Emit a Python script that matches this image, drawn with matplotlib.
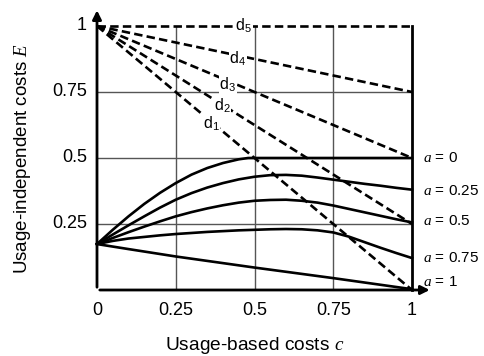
import matplotlib.pyplot as plt
import numpy as np

plt.rcParams['font.family'] = ['Liberation Sans', 'DejaVu Sans']
plt.rcParams['mathtext.fontset'] = 'custom'
plt.rcParams['mathtext.rm'] = 'Liberation Sans'
plt.rcParams['mathtext.it'] = 'Liberation Serif:italic'

# dashed lines d1..d5: from (0, 1) to (1, end)
d_names = ['d$_1$', 'd$_2$', 'd$_3$', 'd$_4$', 'd$_5$']
d_end = [0.0, 0.25, 0.5, 0.75, 1.0]
d_label_pos = [(0.362, 0.629), (0.397, 0.697), (0.415, 0.777), (0.447, 0.875), (0.466, 1.0)]

# solid curves for a = 0 ... 1
a_names = ['$a$ = 0', '$a$ = 0.25', '$a$ = 0.5', '$a$ = 0.75', '$a$ = 1']
a_label_y = [0.5, 0.376, 0.26, 0.121, 0.029]
a0_x = [0, 0.05, 0.1, 0.15, 0.2, 0.25, 0.3, 0.35, 0.4, 0.45, 0.48, 0.6, 0.8, 1.0]
a0_y = [0.174, 0.228, 0.279, 0.326, 0.368, 0.405, 0.437, 0.462, 0.481, 0.495, 0.5, 0.5, 0.5, 0.5]
a25_x = [0, 0.05, 0.1, 0.15, 0.2, 0.25, 0.3, 0.35, 0.4, 0.45, 0.5, 0.55, 0.6, 0.65, 0.7,
         0.75, 0.8, 0.85, 0.9, 0.95, 1.0]
a25_y = [0.174, 0.21, 0.245, 0.279, 0.312, 0.342, 0.367, 0.388, 0.405, 0.419, 0.429, 0.435,
         0.436, 0.433, 0.426, 0.418, 0.41, 0.402, 0.395, 0.387, 0.38]
a50_x = a25_x
a50_y = [0.174, 0.197, 0.219, 0.24, 0.26, 0.279, 0.295, 0.309, 0.321, 0.331, 0.338, 0.341,
         0.342, 0.338, 0.331, 0.32, 0.307, 0.294, 0.281, 0.268, 0.256]
a75_x = a25_x
a75_y = [0.174, 0.186, 0.195, 0.201, 0.207, 0.212, 0.216, 0.22, 0.223, 0.226, 0.228, 0.23,
         0.231, 0.23, 0.226, 0.218, 0.202, 0.181, 0.16, 0.14, 0.121]
a100_x = [0, 0.1, 0.25, 0.5, 0.75, 1.0]
a100_y = [0.174, 0.155, 0.127, 0.085, 0.045, 0.003]
curves = [(a0_x, a0_y), (a25_x, a25_y), (a50_x, a50_y), (a75_x, a75_y), (a100_x, a100_y)]

ticks = [0, 0.25, 0.5, 0.75, 1]
tick_labels = ['0', '0.25', '0.5', '0.75', '1']

fig = plt.figure(figsize=(4.84, 3.56), dpi=100)
ax = fig.add_axes([97 / 484, 66 / 356, 315 / 484, 264 / 356])
ax.set_xlim(0, 1)
ax.set_ylim(0, 1)
for s in ax.spines.values():
    s.set_visible(False)
ax.set_xticks([])
ax.set_yticks([])

# grid
for g in [0.25, 0.5, 0.75]:
    ax.plot([g, g], [0, 1], color='#555555', lw=1.0, zorder=1)
    ax.plot([0, 1], [g, g], color='#555555', lw=1.0, zorder=1)
ax.plot([1, 1], [0, 1], color='black', lw=2.0, zorder=3, clip_on=False)

# axes arrows
arrow = dict(arrowstyle='-|>', color='black', lw=2.0, mutation_scale=13)
ax.annotate('', xy=(0, 1.07), xytext=(0, 0), arrowprops=arrow, annotation_clip=False)
ax.annotate('', xy=(1.065, 0), xytext=(0, 0), arrowprops=arrow, annotation_clip=False)

# dashed lines
for name, end, (lx, ly) in zip(d_names, d_end, d_label_pos):
    ax.plot([0, 1], [1, end], color='black', lw=1.9, ls=(0, (3.2, 1.6)), zorder=4, clip_on=False)
    ax.text(lx, ly, name, fontsize=11.5, ha='center', va='center', zorder=5,
            bbox=dict(facecolor='white', edgecolor='none', pad=0.3))

# solid curves
for (cx, cy), name, ly in zip(curves, a_names, a_label_y):
    ax.plot(cx, cy, color='black', lw=1.9, zorder=4, clip_on=False, solid_joinstyle='round')
    ax.text(1.035, ly, name, fontsize=11, ha='left', va='center', clip_on=False)

# tick labels
for t, lab in zip(ticks, tick_labels):
    ax.text(t, -0.076, lab, fontsize=13, ha='center', va='center')
    if t > 0:
        ax.text(-0.032, t, lab, fontsize=13, ha='right', va='center')

ax.text(0.5, -0.21, 'Usage-based costs $c$', fontsize=13.8, ha='center', va='center')
ax.text(-0.235, 0.5, 'Usage-independent costs $E$', fontsize=13.5, ha='center', va='center',
        rotation=90)

fig.savefig('out.png', dpi=100)
